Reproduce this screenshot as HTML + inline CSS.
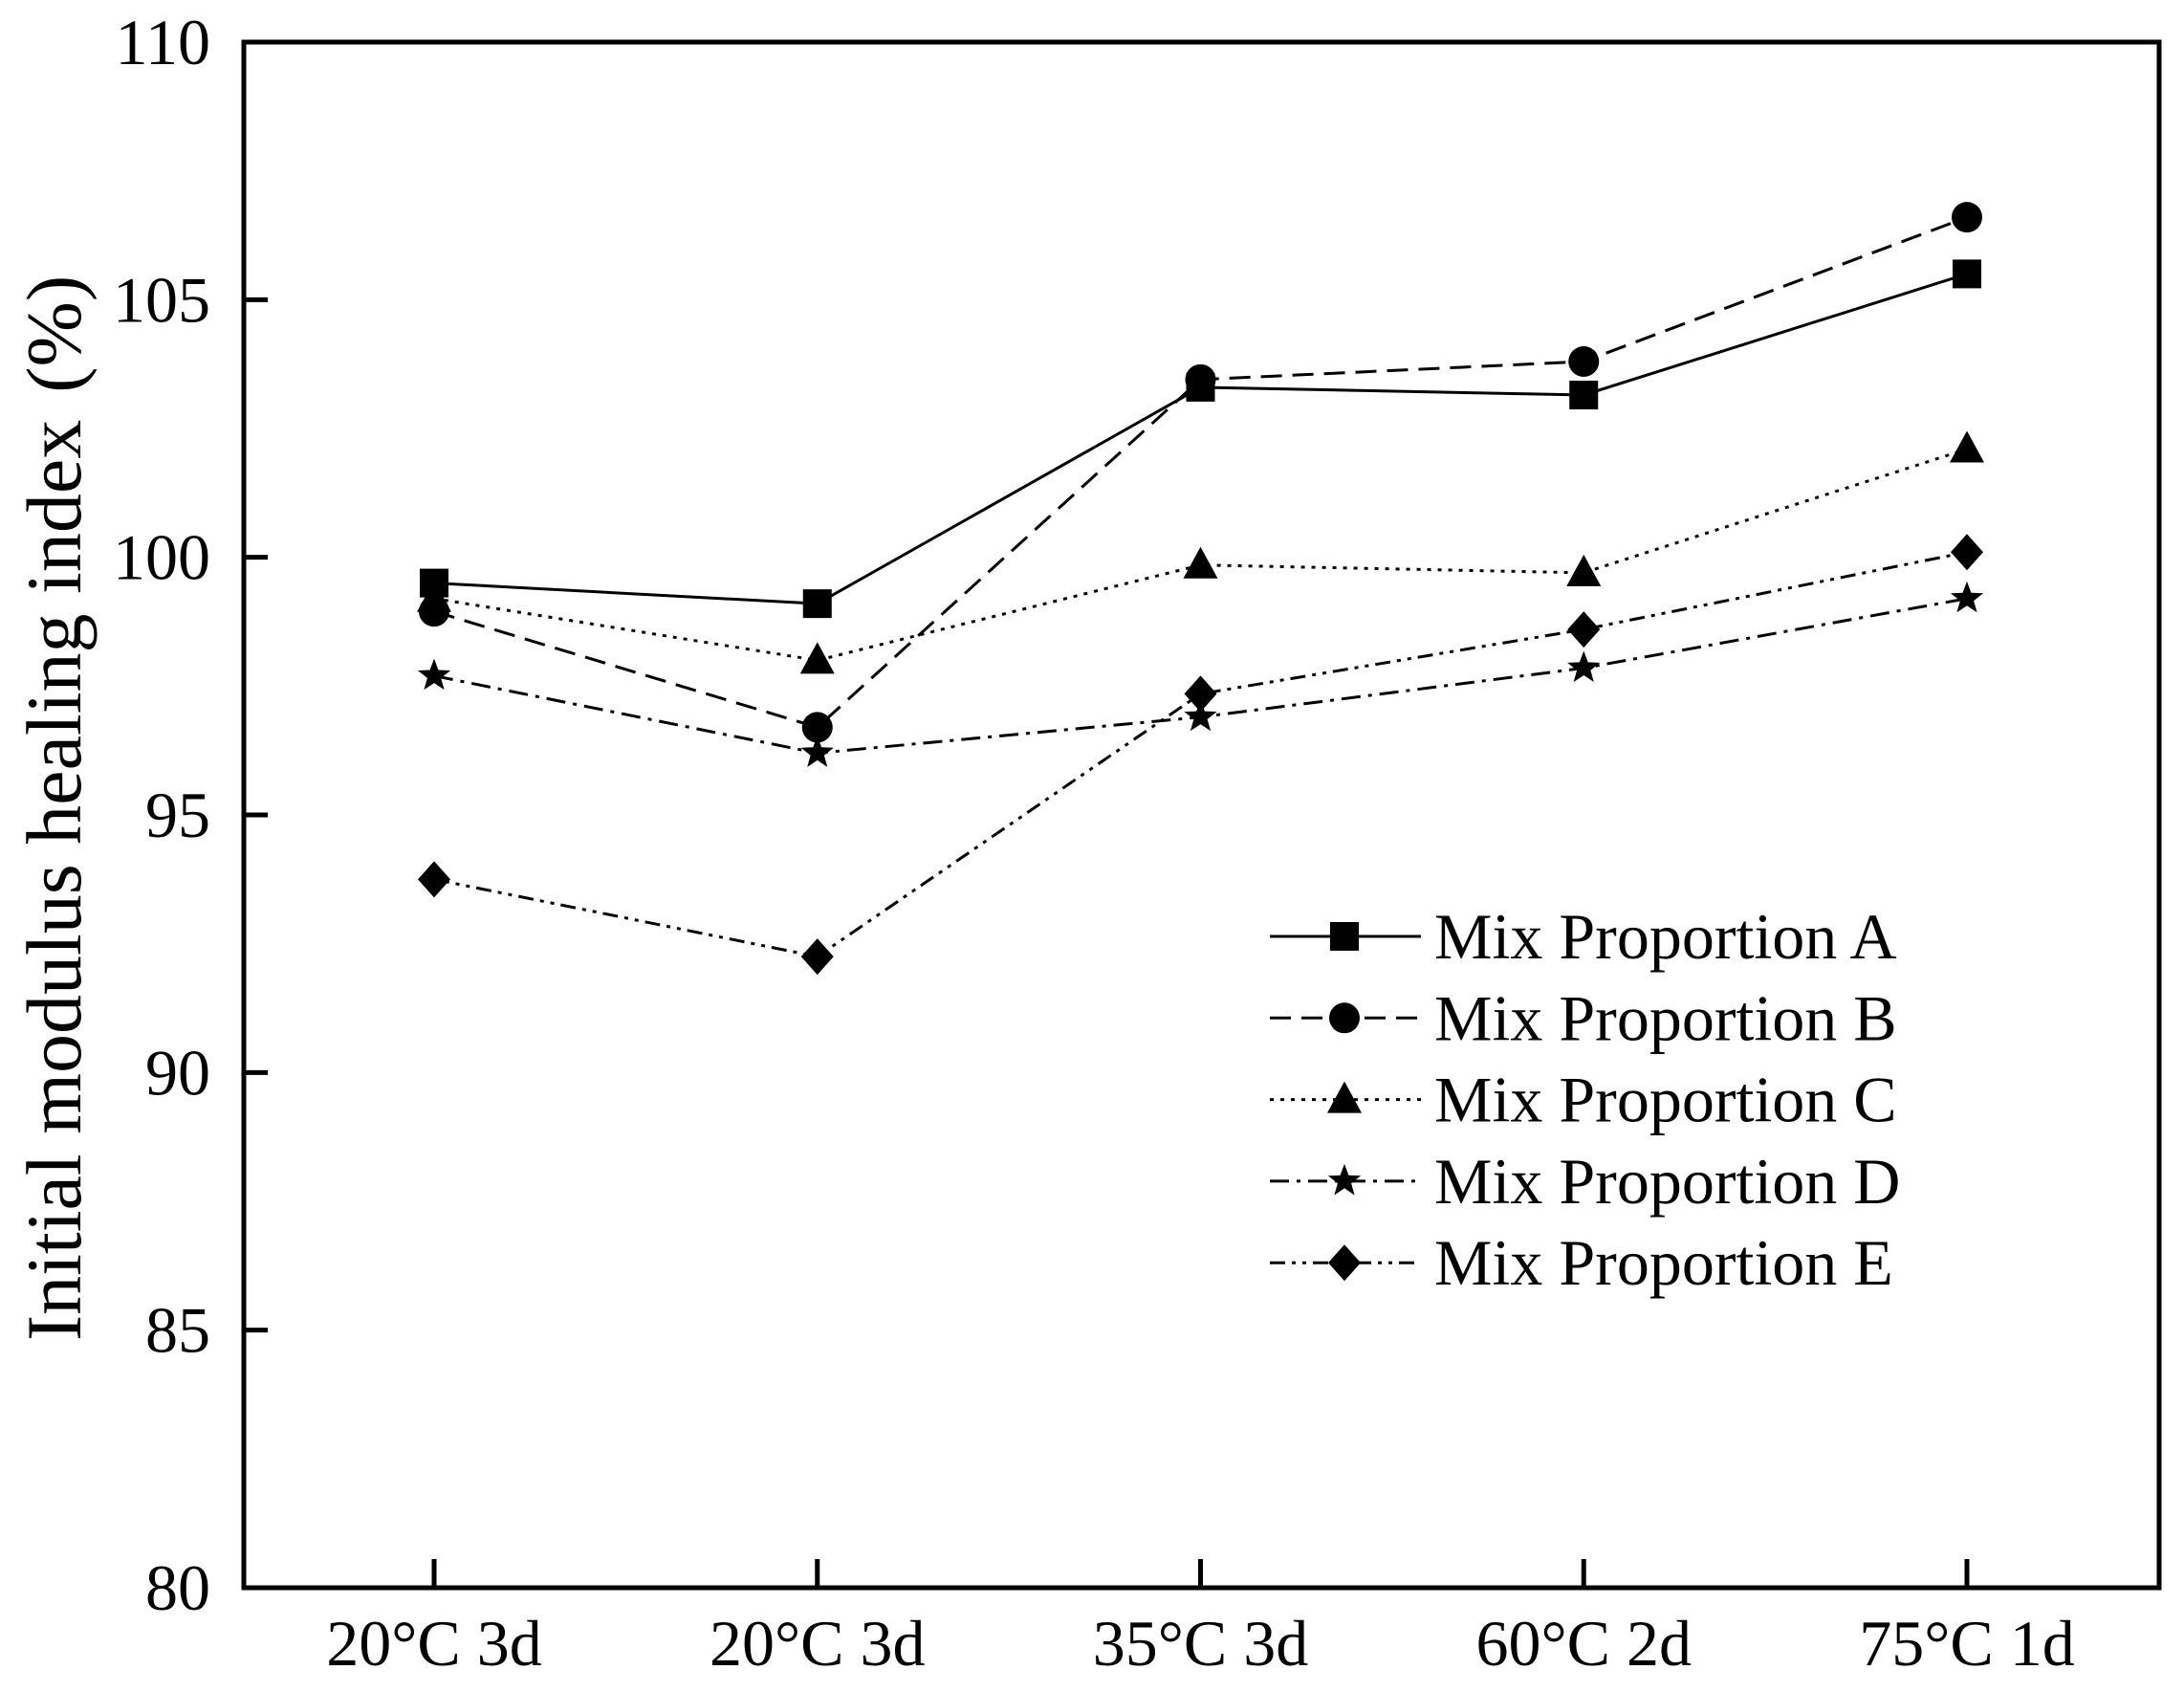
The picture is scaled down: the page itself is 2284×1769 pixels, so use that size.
<!DOCTYPE html>
<html><head><meta charset="utf-8"><style>
body{margin:0;background:#fff}
svg text{font-family:"Liberation Serif",serif;fill:#000}
</style></head><body>
<svg id="chart" width="2284" height="1764" xmlns="http://www.w3.org/2000/svg">
<g id="marks"></g>
<rect x="255" y="44" width="2003" height="1616" fill="none" stroke="#000" stroke-width="5"/>
<g id="axes"></g>
<text transform="translate(84,845) rotate(-90)" text-anchor="middle" font-size="82">Initial modulus healing index<tspan dx="28">(%)</tspan></text>
<g id="legend"></g>
</svg>
<script>
const categories=["20°C 3d","20°C 3d","35°C 3d","60°C 2d","75°C 1d"];
const yTicks=[80,85,90,95,100,105,110];
const seriesNames=["Mix Proportion A","Mix Proportion B","Mix Proportion C","Mix Proportion D","Mix Proportion E"];
const seriesA=[99.5,99.1,103.3,103.15,105.5];
const seriesB=[98.95,96.7,103.45,103.8,106.6];
const seriesC=[99.2,98.0,99.85,99.7,102.1];
const seriesD=[97.7,96.2,96.9,97.85,99.2];
const seriesE=[93.75,92.25,97.35,98.6,100.1];
const allSeries=[seriesA,seriesB,seriesC,seriesD,seriesE];
const dashes=["","22,11","4,7","20,8,4,8","16,7,4,7,4,7"];
const shapes=["square","circle","triangle","star","diamond"];
const NS="http://www.w3.org/2000/svg";
const X0=255,X1=2258,Y0=1660,Y1=44;
function xs(i){return 454+i*400.75;}
function ys(v){return Y0-(v-80)/30*(Y0-Y1);}
function mk(t,a,p){const e=document.createElementNS(NS,t);for(const k in a)e.setAttribute(k,a[k]);p.appendChild(e);return e;}
function marker(shape,x,y,p){
 let e;
 if(shape==="square")e=mk("rect",{x:x-15,y:y-15,width:30,height:30,fill:"#000"},p);
 else if(shape==="circle")e=mk("circle",{cx:x,cy:y,r:16,fill:"#000"},p);
 else if(shape==="triangle")e=mk("polygon",{points:`${x},${y-19} ${x+18},${y+14} ${x-18},${y+14}`,fill:"#000"},p);
 else if(shape==="diamond")e=mk("polygon",{points:`${x},${y-19} ${x+17},${y} ${x},${y+19} ${x-17},${y}`,fill:"#000"},p);
 else{let pts=[];for(let k=0;k<10;k++){const r=k%2?7.5:18,a=-Math.PI/2+k*Math.PI/5;pts.push((x+r*Math.cos(a)).toFixed(1)+","+(y+r*Math.sin(a)).toFixed(1));}e=mk("polygon",{points:pts.join(" "),fill:"#000"},p);}
 return e;
}
const axes=document.getElementById("axes");
yTicks.forEach(v=>{
 const y=ys(v);
 const t=mk("line",{x1:X0,x2:X0+25,y1:y,y2:y,stroke:"#000","stroke-width":5},axes);
 
 
 const l=mk("text",{x:220,y:y+23,"text-anchor":"end","font-size":68},axes);
 l.textContent=v;
 
 
});
categories.forEach((c,i)=>{
 const x=xs(i);
 const t=mk("line",{x1:x,x2:x,y1:Y0,y2:Y0-30,stroke:"#000","stroke-width":5},axes);
 
 
 const l=mk("text",{x:x,y:1741,"text-anchor":"middle","font-size":68},axes);
 l.textContent=c;
 
 
});
const marks=document.getElementById("marks");
allSeries.forEach((s,si)=>{
 const g=mk("g",{},marks);
 
 
 const pl=mk("polyline",{points:s.map((v,i)=>xs(i)+","+ys(v)).join(" "),fill:"none",stroke:"#000","stroke-width":3,"stroke-dasharray":dashes[si]},g);
 
 
 s.forEach((v,i)=>{
  const m=marker(shapes[si],xs(i),ys(v),g);
  
  
 });
});
const lg=document.getElementById("legend");


seriesNames.forEach((n,si)=>{
 const y=979+si*85.3;
 const g=mk("g",{},lg);
 
 
 mk("line",{x1:1328,x2:1486,y1:y,y2:y,stroke:"#000","stroke-width":3,"stroke-dasharray":dashes[si]},g);
 marker(shapes[si],1406,y,g);
 const t=mk("text",{x:1500,y:y+23,"font-size":68},g);
 t.textContent=n;
 
 
});
</script>
</body></html>
